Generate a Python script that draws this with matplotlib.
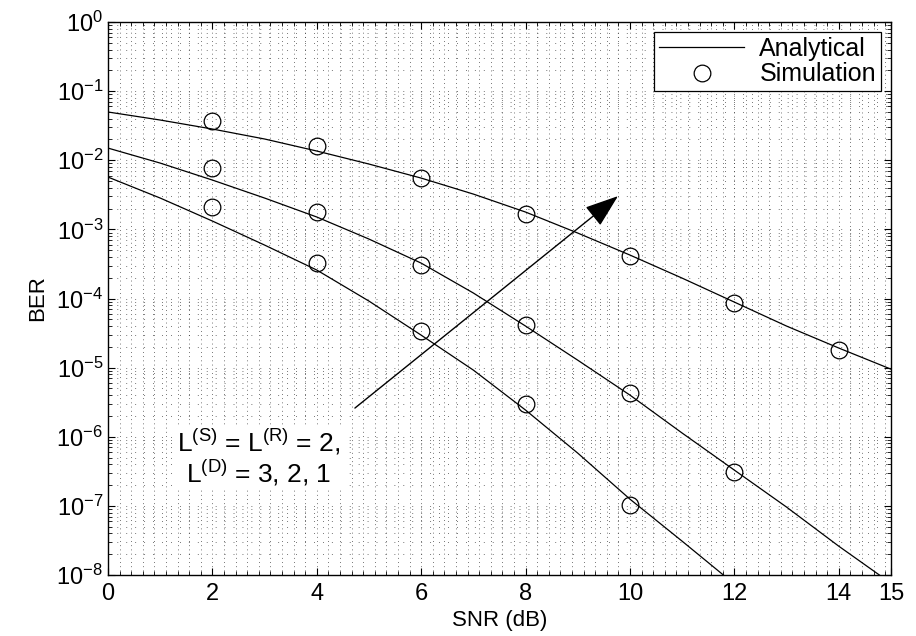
import matplotlib
matplotlib.use("Agg")
import matplotlib.pyplot as plt
from matplotlib.ticker import MultipleLocator, LogLocator, NullFormatter
import numpy as np

plt.rcParams['font.family'] = ['Liberation Sans', 'DejaVu Sans']
plt.rcParams['mathtext.fontset'] = 'custom'
plt.rcParams['mathtext.rm'] = 'Liberation Sans'
plt.rcParams['mathtext.it'] = 'Liberation Sans'
plt.rcParams['mathtext.bf'] = 'Liberation Sans:bold'

# analytical curves, read at integer SNR values (dB)
snr_ana_1 = np.arange(0, 16)
ber_ana_1 = [4.99e-2, 3.82e-2, 2.83e-2, 2.03e-2, 1.36e-2, 8.81e-3, 5.52e-3, 3.24e-3,
             1.78e-3, 8.84e-4, 4.25e-4, 1.97e-4, 8.87e-5, 3.99e-5, 1.92e-5, 9.5e-6]
snr_ana_2 = np.arange(0, 16)
ber_ana_2 = [1.50e-2, 9.1e-3, 5.17e-3, 2.84e-3, 1.51e-3, 7.24e-4, 3.25e-4, 1.20e-4,
             3.99e-5, 1.28e-5, 4.00e-6, 1.13e-6, 3.29e-7, 9.6e-8, 2.61e-8, 7.6e-9]
snr_ana_3 = np.arange(0, 13)
ber_ana_3 = [5.71e-3, 2.84e-3, 1.32e-3, 5.93e-4, 2.58e-4, 9.17e-5, 2.95e-5, 9.2e-6,
             2.43e-6, 5.79e-7, 1.25e-7, 3.08e-8, 7.4e-9]

# simulation points
snr_sim_1 = [2, 4, 6, 8, 10, 12, 14]
ber_sim_1 = [3.69e-2, 1.61e-2, 5.52e-3, 1.66e-3, 4.11e-4, 8.58e-5, 1.79e-5]
snr_sim_2 = [2, 4, 6, 8, 10, 12]
ber_sim_2 = [7.71e-3, 1.78e-3, 3.04e-4, 4.12e-5, 4.28e-6, 3.07e-7]
snr_sim_3 = [2, 4, 6, 8, 10]
ber_sim_3 = [2.10e-3, 3.25e-4, 3.37e-5, 2.96e-6, 1.02e-7]

x_ticks = [0, 2, 4, 6, 8, 10, 12, 14, 15]

fig = plt.figure(figsize=(9.16, 6.36), dpi=100)
ax = fig.add_axes([0.1179, 0.0959, 0.8548, 0.8695])

ana = [(snr_ana_1, ber_ana_1), (snr_ana_2, ber_ana_2), (snr_ana_3, ber_ana_3)]
sim = [(snr_sim_1, ber_sim_1), (snr_sim_2, ber_sim_2), (snr_sim_3, ber_sim_3)]
for i, (x, y) in enumerate(ana):
    ax.plot(x, y, color='k', lw=0.9, label='Analytical' if i == 0 else None)
for i, (x, y) in enumerate(sim):
    ax.plot(x, y, ls='none', marker='o', ms=12, mfc='none', mec='k', mew=0.9,
            label='Simulation' if i == 0 else None)

ax.set_yscale('log')
ax.set_xlim(0, 15)
ax.set_ylim(1e-8, 1)
ax.set_xticks(x_ticks)
ax.xaxis.set_minor_locator(MultipleLocator(2 / 9))
ax.yaxis.set_major_locator(LogLocator(base=10, numticks=20))
ax.yaxis.set_minor_locator(LogLocator(base=10, subs=np.arange(2, 10), numticks=20))
ax.yaxis.set_minor_formatter(NullFormatter())

ax.tick_params(which='both', direction='in', top=True, right=True, labelsize=17)
ax.tick_params(which='major', length=5, width=0.8)
ax.tick_params(which='minor', length=3, width=0.6)
ax.tick_params(axis='x', pad=6)
for s in ax.spines.values():
    s.set_linewidth(1.0)

# MATLAB style dotted grid: vertical lines dense dots, horizontal lines sparse
ax.xaxis.grid(True, which='both', color='0.15', ls=(0, (1, 4.5)), lw=0.55)
ax.yaxis.grid(True, which='both', color='0.15', ls=(0, (1, 10.7)), lw=0.55)

ax.set_xlabel('SNR (dB)', fontsize=16, labelpad=3)
ax.set_ylabel('BER', fontsize=16, labelpad=6)

ax.annotate('', xy=(9.77, 3.03e-3), xytext=(4.73, 2.6e-6),
            arrowprops=dict(arrowstyle='-|>,head_length=0.7,head_width=0.25',
                            color='k', lw=1.0, mutation_scale=30,
                            shrinkA=0, shrinkB=0))

ax.text(2.89, 5.0e-7, r'L$^{\mathrm{(S)}}$ = L$^{\mathrm{(R)}}$ = 2,' + '\n' +
        r'L$^{\mathrm{(D)}}$ = 3, 2, 1', fontsize=19, ha='center', va='center',
        linespacing=1.05, bbox=dict(facecolor='white', edgecolor='none', pad=1))

leg = ax.legend(loc='upper right', fontsize=18, handlelength=3.4, frameon=True,
                fancybox=False, framealpha=1, edgecolor='k', borderaxespad=0.4,
                labelspacing=0.05, handletextpad=0.6, borderpad=0.2)
leg.get_frame().set_linewidth(0.9)

fig.savefig('out.png', dpi=100)
